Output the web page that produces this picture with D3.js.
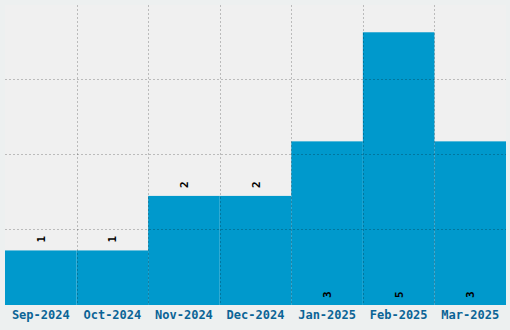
<!DOCTYPE html>
<html>
<head>
<meta charset="utf-8">
<script src="https://cdn.jsdelivr.net/npm/d3@7"></script>
<style>
  body { margin: 0; background: #edf0f0; }
  svg { display: block; }
</style>
</head>
<body>
<div id="chart"></div>
<script>
// chart data
const months = ["Sep-2024", "Oct-2024", "Nov-2024", "Dec-2024", "Jan-2025", "Feb-2025", "Mar-2025"];
const counts = [1, 1, 2, 2, 3, 5, 3];

const width = 510, height = 330;
const margin = { top: 5, right: 4, bottom: 25, left: 5 };
const innerW = width - margin.left - margin.right;
const innerH = height - margin.top - margin.bottom;

let svg = d3.select("#chart")
    .append("svg")
    .attr("width", width)
    .attr("height", height)
    .style("background", "#edf0f0")
    .append("g")
    .attr("transform", `translate(${margin.left}, ${margin.top})`);

let yMax = d3.max(counts) * 1.1;

let x = d3.scaleBand()
    .domain(months)
    .range([0, innerW])
    .padding(0);

let y = d3.scaleLinear()
    .domain([0, yMax])
    .range([innerH, 0]);

// plot background
svg.append("rect")
    .attr("width", innerW)
    .attr("height", innerH)
    .attr("fill", "#f0f0f0");

// bars
svg.append("g")
    .selectAll("rect")
    .data(months)
    .join("rect")
    .attr("x", d => x(d))
    .attr("y", (d, i) => y(counts[i]))
    .attr("width", x.bandwidth())
    .attr("height", (d, i) => innerH - y(counts[i]))
    .attr("fill", "#0099cc");

// gridlines drawn over the bars
let yGrid = d3.range(1, 4).map(i => yMax * i / 4);
svg.append("g")
    .selectAll("line")
    .data(yGrid)
    .join("line")
    .attr("x1", 0)
    .attr("x2", innerW)
    .attr("y1", d => Math.round(y(d)) - 0.5)
    .attr("y2", d => Math.round(y(d)) - 0.5)
    .attr("stroke", "rgba(0,0,0,0.22)")
    .attr("stroke-dasharray", "2,2");

svg.append("g")
    .selectAll("line")
    .data(months.slice(1))
    .join("line")
    .attr("x1", d => Math.round(x(d)) + 0.5)
    .attr("x2", d => Math.round(x(d)) + 0.5)
    .attr("y1", 0)
    .attr("y2", innerH)
    .attr("stroke", "rgba(0,0,0,0.22)")
    .attr("stroke-dasharray", "2,2");

// value labels, rotated; small bars get the label above, tall ones inside at the bottom
svg.append("g")
    .selectAll("text")
    .data(months)
    .join("text")
    .attr("transform", (d, i) => {
        let cx = x(d) + x.bandwidth() / 2 + 4;
        let cy = counts[i] < 3 ? y(counts[i]) - 8 : innerH - 7;
        return `translate(${cx}, ${cy}) rotate(-90)`;
    })
    .style("font-family", "'DejaVu Sans Mono', monospace")
    .style("font-weight", "bold")
    .style("font-size", "11px")
    .style("fill", "#000")
    .text((d, i) => counts[i]);

// x axis labels
let xAxis = svg.append("g")
    .attr("transform", `translate(0, ${innerH})`)
    .call(d3.axisBottom(x).tickSize(0).tickPadding(5));
xAxis.select(".domain").remove();
xAxis.selectAll("text")
    .style("font-family", "'DejaVu Sans Mono', monospace")
    .style("font-weight", "bold")
    .style("font-size", "12px")
    .style("fill", "#0b6496");
</script>
</body>
</html>
